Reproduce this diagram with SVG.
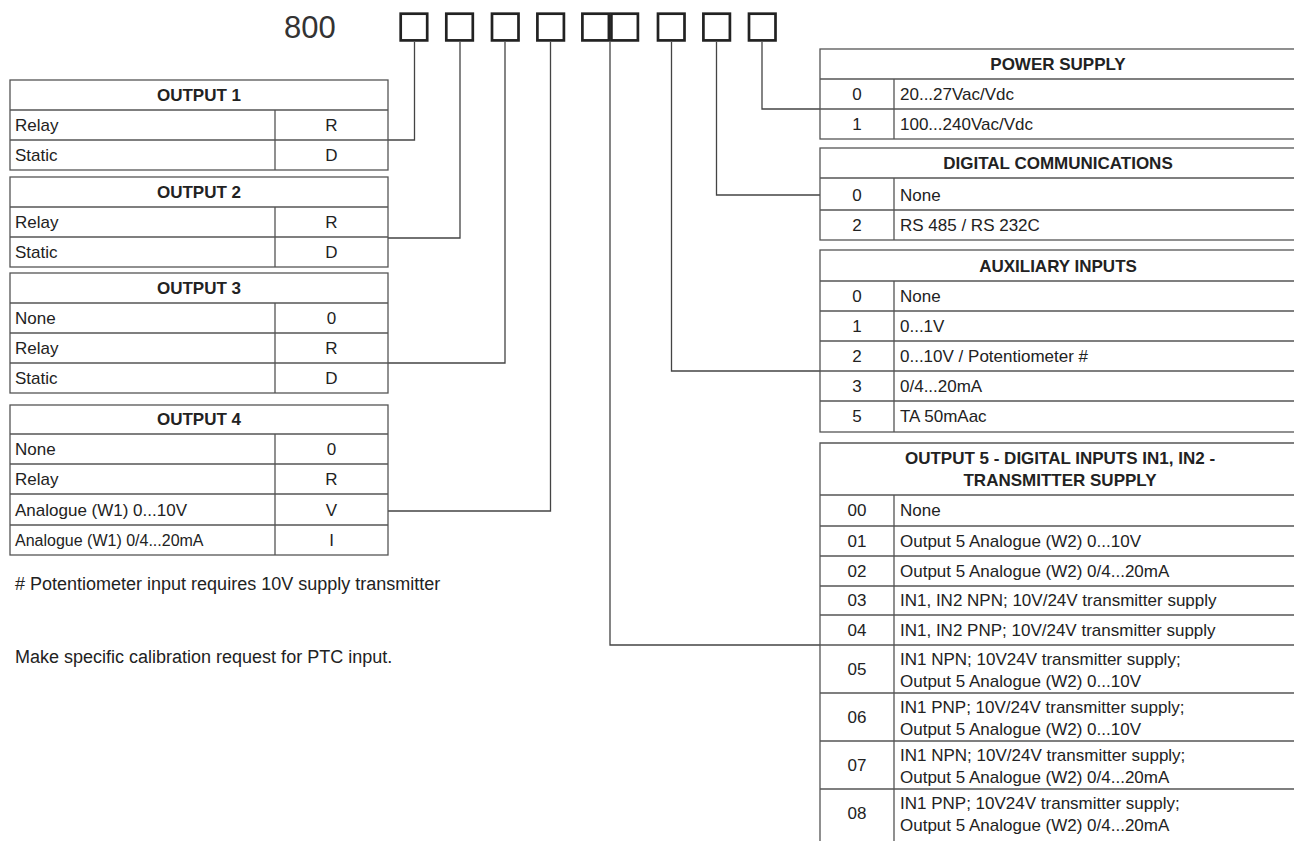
<svg xmlns="http://www.w3.org/2000/svg" width="1294" height="841" viewBox="0 0 1294 841">
<style>
text{font-family:"Liberation Sans",Arial,sans-serif;fill:#222;font-size:17px}
.h{font-weight:bold;text-anchor:middle}
.c{text-anchor:middle}
.t{fill:#fff;stroke:#555;stroke-width:1.3}
.ln{stroke:#555;stroke-width:1.3;fill:none}
.box{fill:#fff;stroke:#222;stroke-width:2.7}
.con{stroke:#444;stroke-width:1.3;fill:none}
.note{font-size:18px}
</style>
<rect width="1294" height="841" fill="#fff"/>
<g id="code">
<text x="284" y="38" style="font-size:31px;fill:#333">800</text>
<rect class="box" x="400.7" y="13.7" width="26.5" height="26.7"/>
<rect class="box" x="446.3" y="13.7" width="26.5" height="26.7"/>
<rect class="box" x="492" y="13.7" width="26.5" height="26.7"/>
<rect class="box" x="537.4" y="13.7" width="26.5" height="26.7"/>
<rect class="box" x="582.4" y="13.7" width="26.5" height="26.7"/>
<rect class="box" x="611.4" y="13.7" width="26.5" height="26.7"/>
<rect class="box" x="658" y="13.7" width="26.5" height="26.7"/>
<rect class="box" x="703.4" y="13.7" width="26.5" height="26.7"/>
<rect class="box" x="749" y="13.7" width="26.5" height="26.7"/>
</g>
<g id="connectors">
<path class="con" d="M414.5 42V140H388"/>
<path class="con" d="M460 42V238H388"/>
<path class="con" d="M505 42V363H388"/>
<path class="con" d="M550.5 42V511H388"/>
<path class="con" d="M610 42V645H820"/>
<path class="con" d="M671.5 42V371H820"/>
<path class="con" d="M716.5 42V195H820"/>
<path class="con" d="M762 42V109H820"/>
</g>
<g id="output1">
<rect class="t" x="10" y="80" width="378" height="90"/>
<path class="ln" d="M10 110H388M10 140H388M275 110V170"/>
<text class="h" x="199" y="101">OUTPUT 1</text>
<text x="15" y="131">Relay</text><text class="c" x="331.5" y="131">R</text>
<text x="15" y="161">Static</text><text class="c" x="331.5" y="161">D</text>
</g>
<g id="output2">
<rect class="t" x="10" y="177" width="378" height="90"/>
<path class="ln" d="M10 207H388M10 237H388M275 207V267"/>
<text class="h" x="199" y="198">OUTPUT 2</text>
<text x="15" y="228">Relay</text><text class="c" x="331.5" y="228">R</text>
<text x="15" y="258">Static</text><text class="c" x="331.5" y="258">D</text>
</g>
<g id="output3">
<rect class="t" x="10" y="273" width="378" height="120"/>
<path class="ln" d="M10 303H388M10 333H388M10 363H388M275 303V393"/>
<text class="h" x="199" y="294">OUTPUT 3</text>
<text x="15" y="324">None</text><text class="c" x="331.5" y="324">0</text>
<text x="15" y="354">Relay</text><text class="c" x="331.5" y="354">R</text>
<text x="15" y="384">Static</text><text class="c" x="331.5" y="384">D</text>
</g>
<g id="output4">
<rect class="t" x="10" y="405" width="378" height="150"/>
<path class="ln" d="M10 434H388M10 464H388M10 494H388M10 525H388M275 434V555"/>
<text class="h" x="199" y="425">OUTPUT 4</text>
<text x="15" y="455">None</text><text class="c" x="331.5" y="455">0</text>
<text x="15" y="485">Relay</text><text class="c" x="331.5" y="485">R</text>
<text x="15" y="516">Analogue (W1) 0...10V</text><text class="c" x="331.5" y="516">V</text>
<text x="15" y="546" style="font-size:16px">Analogue  (W1) 0/4...20mA</text><text class="c" x="331.5" y="546">I</text>
</g>
<g id="notes">
<text class="note" x="15" y="590"># Potentiometer input requires 10V supply transmitter</text>
<text class="note" x="15" y="663">Make specific calibration request for PTC input.</text>
</g>
<g id="power">
<rect class="t" x="820" y="49" width="480" height="90"/>
<path class="ln" d="M820 79H1300M820 109H1300M894 79V139"/>
<text class="h" x="1058" y="70">POWER SUPPLY</text>
<text class="c" x="857" y="100">0</text><text x="900" y="100">20...27Vac/Vdc</text>
<text class="c" x="857" y="130">1</text><text x="900" y="130">100...240Vac/Vdc</text>
</g>
<g id="digital">
<rect class="t" x="820" y="148" width="480" height="92"/>
<path class="ln" d="M820 178H1300M820 210H1300M894 178V240"/>
<text class="h" x="1058" y="169">DIGITAL COMMUNICATIONS</text>
<text class="c" x="857" y="201">0</text><text x="900" y="201">None</text>
<text class="c" x="857" y="231">2</text><text x="900" y="231">RS 485 / RS 232C</text>
</g>
<g id="auxiliary">
<rect class="t" x="820" y="250" width="480" height="182"/>
<path class="ln" d="M820 281H1300M820 311H1300M820 341H1300M820 371H1300M820 401H1300M894 281V432"/>
<text class="h" x="1058" y="272">AUXILIARY INPUTS</text>
<text class="c" x="857" y="302">0</text><text x="900" y="302">None</text>
<text class="c" x="857" y="332">1</text><text x="900" y="332">0...1V</text>
<text class="c" x="857" y="362">2</text><text x="900" y="362">0...10V / Potentiometer #</text>
<text class="c" x="857" y="392">3</text><text x="900" y="392">0/4...20mA</text>
<text class="c" x="857" y="422">5</text><text x="900" y="422">TA 50mAac</text>
</g>
<g id="output5">
<path class="t" d="M1300 443H820V850M894 495V850"/>
<path class="ln" d="M820 495H1300M820 526H1300M820 556H1300M820 586H1300M820 615H1300M820 645H1300M820 693H1300M820 741H1300M820 789H1300"/>
<text class="h" x="1060" y="464">OUTPUT 5 - DIGITAL INPUTS IN1, IN2 -</text>
<text class="h" x="1060" y="486">TRANSMITTER SUPPLY</text>
<text class="c" x="857" y="516">00</text><text x="900" y="516">None</text>
<text class="c" x="857" y="547">01</text><text x="900" y="547">Output 5 Analogue (W2) 0...10V</text>
<text class="c" x="857" y="577">02</text><text x="900" y="577">Output 5 Analogue (W2) 0/4...20mA</text>
<text class="c" x="857" y="606">03</text><text x="900" y="606">IN1, IN2 NPN; 10V/24V transmitter supply</text>
<text class="c" x="857" y="636">04</text><text x="900" y="636">IN1, IN2 PNP; 10V/24V transmitter supply</text>
<text class="c" x="857" y="675">05</text><text x="900" y="665">IN1 NPN; 10V24V transmitter supply;</text><text x="900" y="687">Output 5 Analogue (W2) 0...10V</text>
<text class="c" x="857" y="723">06</text><text x="900" y="713">IN1 PNP; 10V/24V transmitter supply;</text><text x="900" y="735">Output 5 Analogue (W2) 0...10V</text>
<text class="c" x="857" y="771">07</text><text x="900" y="761">IN1 NPN; 10V/24V transmitter supply;</text><text x="900" y="783">Output 5 Analogue (W2) 0/4...20mA</text>
<text class="c" x="857" y="819">08</text><text x="900" y="809">IN1 PNP; 10V24V transmitter supply;</text><text x="900" y="831">Output 5 Analogue (W2) 0/4...20mA</text>
</g>
</svg>
